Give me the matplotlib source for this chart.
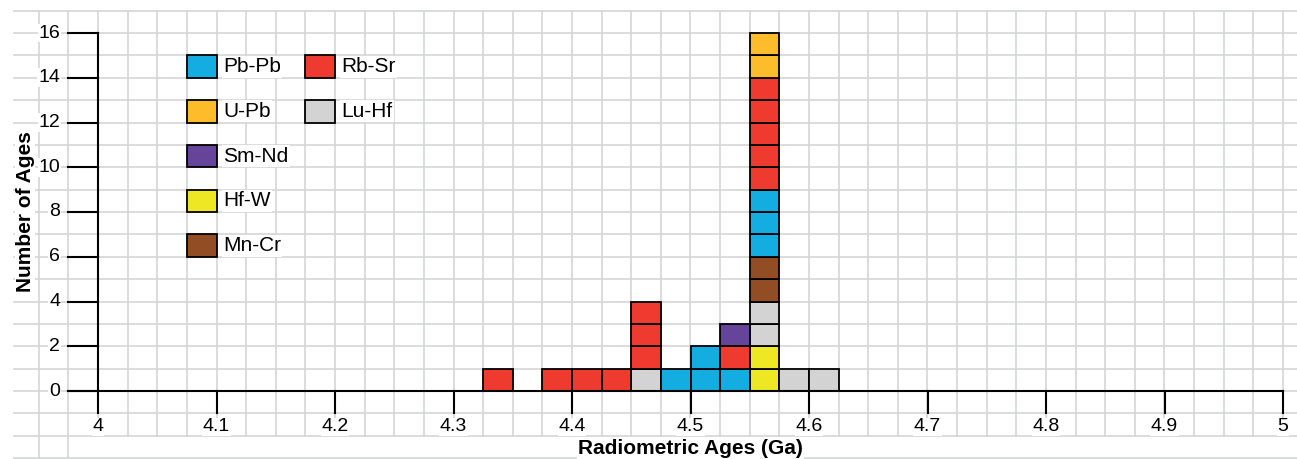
import matplotlib.pyplot as plt
from matplotlib.patches import Rectangle
import numpy as np

plt.rcParams['font.family'] = ['Liberation Sans', 'DejaVu Sans']

# Bins (left edge, Ga) of width 0.025
bin_left = [4.325, 4.375, 4.4, 4.425, 4.45, 4.475, 4.5, 4.525, 4.55, 4.575, 4.6]
bin_width = 0.025

# counts per method, stacked in this order (bottom -> top)
metodos = ['Hf-W', 'Lu-Hf', 'Mn-Cr', 'Pb-Pb', 'Rb-Sr', 'Sm-Nd', 'U-Pb']
hf_w  = [0, 0, 0, 0, 0, 0, 0, 0, 2, 0, 0]
lu_hf = [0, 0, 0, 0, 1, 0, 0, 0, 2, 1, 1]
mn_cr = [0, 0, 0, 0, 0, 0, 0, 0, 2, 0, 0]
pb_pb = [0, 0, 0, 0, 0, 1, 2, 1, 3, 0, 0]
rb_sr = [1, 1, 1, 1, 3, 0, 0, 1, 5, 0, 0]
sm_nd = [0, 0, 0, 0, 0, 0, 0, 1, 0, 0, 0]
u_pb  = [0, 0, 0, 0, 0, 0, 0, 0, 2, 0, 0]
contagens = [hf_w, lu_hf, mn_cr, pb_pb, rb_sr, sm_nd, u_pb]

cores = {'Pb-Pb': '#14ADE2', 'Rb-Sr': '#EE3A2F', 'U-Pb': '#FDBD2A',
         'Lu-Hf': '#D3D3D3', 'Sm-Nd': '#65449A', 'Hf-W': '#EDE724',
         'Mn-Cr': '#924D24'}

# legend layout: (name, column, row)
legenda = [('Pb-Pb', 0, 0), ('Rb-Sr', 1, 0), ('U-Pb', 0, 1), ('Lu-Hf', 1, 1),
           ('Sm-Nd', 0, 2), ('Hf-W', 0, 3), ('Mn-Cr', 0, 4)]

x_ticks = [4, 4.1, 4.2, 4.3, 4.4, 4.5, 4.6, 4.7, 4.8, 4.9, 5]
x_labels = ['4', '4.1', '4.2', '4.3', '4.4', '4.5', '4.6', '4.7', '4.8', '4.9', '5']
y_ticks = [0, 2, 4, 6, 8, 10, 12, 14, 16]

fig = plt.figure(figsize=(12.97, 4.59), dpi=100)
ax = fig.add_axes([0, 0, 1, 1])
ax.axis('off')

# pixel mapping of the original picture
px_x = 1185.0   # px per Ga
px_y = 22.375   # px per count
ax.set_xlim(4 - 98 / px_x, 4 + 1199 / px_x)
ax.set_ylim((391 - 459) / px_y, 391 / px_y)

# graph paper background
grade = '#D4D6D6'
for gx in np.arange(3.95, 5.001, 0.025):
    y0 = -3 if gx < 3.99 else -2
    ax.plot([gx, gx], [y0, 17], color=grade, lw=1.2, zorder=0)
for gy in range(-3, 18):
    ax.plot([4 - 84 / px_x, 5.02], [gy, gy], color=grade, lw=1.2, zorder=0)

# stacked unit boxes
base = np.zeros(len(bin_left))
for nome, cont in zip(metodos, contagens):
    for i, c in enumerate(cont):
        for k in range(c):
            ax.bar(bin_left[i], 1, bin_width, bottom=base[i] + k, align='edge',
                   color=cores[nome], edgecolor='black', linewidth=1.3, zorder=3)
        base[i] += c

# axes
ax.plot([4, 4], [0, 16], color='black', lw=1.5, zorder=4)
ax.plot([3.975, 5], [0, 0], color='black', lw=1.5, zorder=4)
for t in y_ticks:
    ax.plot([3.975, 4], [t, t], color='black', lw=1.5, zorder=4)
    ax.text(3.968, t, str(t), ha='right', va='center', fontsize=14, zorder=2,
            bbox=dict(facecolor='white', edgecolor='none', pad=0.5))
for t, lab in zip(x_ticks, x_labels):
    ax.plot([t, t], [0, -1], color='black', lw=1.5, zorder=4)
    ax.text(t, -1.6, lab, ha='center', va='center', fontsize=14, zorder=2,
            bbox=dict(facecolor='white', edgecolor='none', pad=0.5))

ax.text(4.5, -2.55, 'Radiometric Ages (Ga)', ha='center', va='center',
        fontsize=15, fontweight='bold', zorder=2,
        bbox=dict(facecolor='white', edgecolor='none', pad=1))
ax.text(3.9384, 8, 'Number of Ages', ha='center', va='center', rotation=90,
        fontsize=15, fontweight='bold', zorder=2,
        bbox=dict(facecolor='white', edgecolor='none', pad=0.5))

# legend
for nome, col, row in legenda:
    x0 = 4.075 + col * 0.1
    y0 = 14 - 2 * row
    ax.add_patch(Rectangle((x0, y0), bin_width, 1, facecolor=cores[nome],
                           edgecolor='black', linewidth=1.3, zorder=3))
    ax.text(x0 + 0.0305, y0 + 0.5, nome, ha='left', va='center', fontsize=15,
            zorder=2, bbox=dict(facecolor='white', edgecolor='none', pad=1))

fig.savefig('out.png', dpi=100)
